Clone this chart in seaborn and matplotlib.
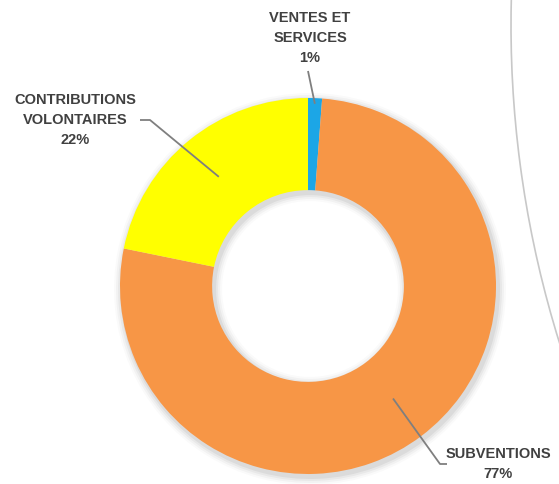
import matplotlib
matplotlib.use("Agg")
import matplotlib.pyplot as plt
from matplotlib.patches import Arc
import numpy as np
import seaborn as sns

sns.set_theme(style="white")
plt.rcParams["font.family"] = ["Liberation Sans Narrow", "Liberation Sans", "DejaVu Sans"]

# données
labels = ["VENTES ET\nSERVICES", "SUBVENTIONS", "CONTRIBUTIONS\nVOLONTAIRES"]
values = [1.2, 77.0, 21.8]
pct_labels = ["1%", "77%", "22%"]
colors = ["#1CA6E6", "#F79646", "#FFFF00"]

W, H = 559, 485
fig = plt.figure(figsize=(W / 100, H / 100), dpi=100)
ax = fig.add_axes([0, 0, 1, 1])
ax.set_xlim(0, W)
ax.set_ylim(0, H)
ax.set_aspect("equal")
ax.axis("off")

cx, cy, R = 308, H - 287, 188
ring = 0.49

# ombre douce
for k, a in enumerate([0.05, 0.04, 0.03, 0.02]):
    ax.pie(values, startangle=90, counterclock=False, center=(cx + 2, cy - 3),
           radius=R + 2 + 2 * k, colors=["#000000"] * 3,
           wedgeprops=dict(width=ring * R + 4 + 4 * k, alpha=a, linewidth=0))

wedges, _ = ax.pie(values, startangle=90, counterclock=False, center=(cx, cy),
                   radius=R, colors=colors,
                   wedgeprops=dict(width=ring * R, linewidth=0))
ax.set_xlim(0, W)
ax.set_ylim(0, H)

# étiquettes et lignes de rappel
txt_pos = [(310, H - 38), (498, H - 464), (75, H - 120)]
anchor_r = [0.97, 0.75, 0.75]
elbows = [None, ((440, H - 465), (447, H - 465)), ((150, H - 121), (140, H - 121))]
for w, lab, pct, (tx, ty), ar, el in zip(wedges, labels, pct_labels, txt_pos, anchor_r, elbows):
    ang = np.deg2rad((w.theta1 + w.theta2) / 2)
    axp = (cx + ar * R * np.cos(ang), cy + ar * R * np.sin(ang))
    if el is None:
        xs = [axp[0], 308]
        ys = [axp[1], H - 72]
    else:
        xs = [axp[0], el[0][0], el[1][0]]
        ys = [axp[1], el[0][1], el[1][1]]
    ax.plot(xs, ys, color="#7f7f7f", lw=1.3, solid_capstyle="butt")
    ax.text(tx, ty, lab + "\n" + pct, ha="center", va="center", fontsize=10.5,
            fontweight="bold", color="#404040", linespacing=1.5)

# arc gris à droite
ax.add_patch(Arc((1577, H - 26), 2 * 1066, 2 * 1066, theta1=170, theta2=205,
                 color="#c8c8c8", lw=1.2))

fig.savefig("out.png", dpi=100)
